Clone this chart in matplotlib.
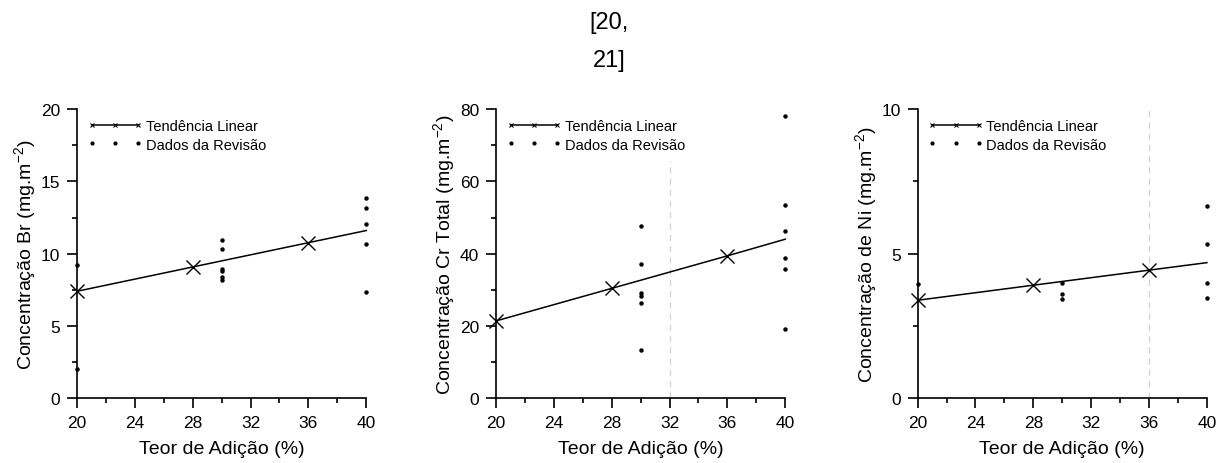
import matplotlib
matplotlib.use("Agg")
import matplotlib.pyplot as plt
from matplotlib.ticker import MultipleLocator

plt.rcParams['font.family'] = ['Liberation Sans', 'DejaVu Sans']
plt.rcParams['mathtext.default'] = 'regular'

# trend line (x values and fitted values)
trend_x = [20, 28, 36, 40]
br_trend = [7.4, 9.08, 10.76, 11.6]
cr_trend = [21.4, 30.4, 39.4, 44.0]
ni_trend = [3.39, 3.91, 4.43, 4.69]

# review data points
br_x = [20, 20, 30, 30, 30, 30, 30, 30, 40, 40, 40, 40, 40]
br_y = [9.2, 2.0, 10.94, 10.3, 8.97, 8.8, 8.41, 8.18, 13.85, 13.13, 12.07, 10.69, 7.37]

cr_x = [30, 30, 30, 30, 30, 30, 40, 40, 40, 40, 40, 40]
cr_y = [47.7, 37.2, 29.0, 28.3, 26.4, 13.3, 78.0, 53.4, 46.2, 38.8, 35.8, 19.3]

ni_x = [20, 30, 30, 30, 40, 40, 40, 40]
ni_y = [3.94, 3.97, 3.6, 3.43, 6.64, 5.32, 4.0, 3.48]

panels = [
    ("Concentração Br (mg.m$^{-2}$)", br_trend, br_x, br_y, 20, 5, None),
    ("Concentração Cr Total (mg.m$^{-2}$)", cr_trend, cr_x, cr_y, 80, 20, (32, 0.82)),
    ("Concentração de Ni (mg.m$^{-2}$)", ni_trend, ni_x, ni_y, 10, 5, (36, 1.0)),
]
lefts = [0.0632, 0.4072, 0.7534]

fig = plt.figure(figsize=(12.18, 4.64), dpi=100)
fig.text(0.5, 0.975, "[20,\n21]", ha="center", va="top", fontsize=17, linespacing=1.95)

for left, (ylabel, trend, sx, sy, ymax, ystep, vline) in zip(lefts, panels):
    ax = fig.add_axes([left, 0.1394, 0.2375, 0.6235])
    if vline is not None:
        ax.axvline(vline[0], ymax=vline[1], color="#d4d4d4", lw=0.9, ls=(0, (5, 4)), zorder=0)
    ax.plot(trend_x, trend, color="black", lw=1.1, marker="x", markersize=10,
            markeredgewidth=1.0, markevery=[0, 1, 2], clip_on=False,
            label="Tendência Linear")
    ax.plot(sx, sy, ls="none", marker="o", markersize=2.2, color="black",
            clip_on=False, label="Dados da Revisão")
    ax.set_xlim(20, 40)
    ax.set_ylim(0, ymax)
    ax.xaxis.set_major_locator(MultipleLocator(4))
    ax.xaxis.set_minor_locator(MultipleLocator(2))
    ax.yaxis.set_major_locator(MultipleLocator(ystep))
    ax.yaxis.set_minor_locator(MultipleLocator(ystep / 2))
    for s in ["top", "right"]:
        ax.spines[s].set_visible(False)
    for s in ["left", "bottom"]:
        ax.spines[s].set_linewidth(1.2)
    ax.tick_params(which="major", direction="out", length=7, width=1.2, labelsize=12.5, pad=5)
    ax.tick_params(which="minor", direction="out", length=3.5, width=1.2)
    ax.set_xlabel("Teor de Adição (%)", fontsize=14, labelpad=7)
    ax.set_ylabel(ylabel, fontsize=14, labelpad=2)
    leg = ax.legend(loc="upper left", frameon=False, fontsize=10.5, numpoints=3,
                    handlelength=3.8, handletextpad=0.2,
                    labelspacing=0.3, borderaxespad=0.3, bbox_to_anchor=(0.0, 1.0))
    leg.legend_handles[0].set_markersize(3.5)
    leg.legend_handles[0].set_markeredgewidth(0.8)
    leg.legend_handles[1].set_markersize(2.0)

plt.savefig("out.png", dpi=100)
